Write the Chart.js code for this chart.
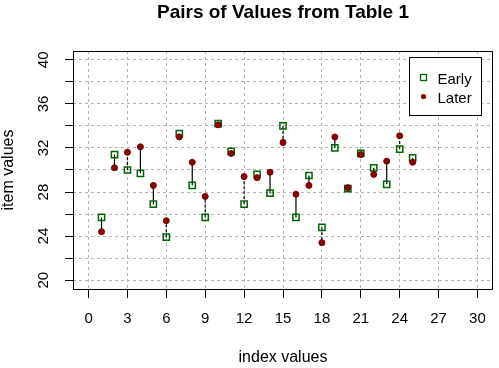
<!DOCTYPE html>
<html>
<head>
<meta charset="utf-8">
<script src="https://cdn.jsdelivr.net/npm/chart.js@4.4.1/dist/chart.umd.min.js"></script>
<style>
  html, body { margin: 0; padding: 0; background: #fff; }
  #wrap { width: 499px; height: 368px; }
</style>
</head>
<body>
<div id="wrap"><canvas id="chart" width="499" height="368"></canvas></div>
<script>
// Valores
const indexValues = [1, 2, 3, 4, 5, 6, 7, 8, 9, 10, 11, 12, 13, 14, 15, 16, 17, 18, 19, 20, 21, 22, 23, 24, 25];
const earlyValues = [25.7, 31.4, 30.0, 29.7, 26.9, 23.9, 33.3, 28.6, 25.7, 34.2, 31.7, 26.9, 29.6,
                     27.9, 34.0, 25.7, 29.5, 24.8, 32.0, 28.3, 31.5, 30.2, 28.7, 31.9, 31.1];
const laterValues = [24.4, 30.2, 31.6, 32.1, 28.6, 25.4, 33.0, 30.7, 27.6, 34.1, 31.5, 29.4, 29.3,
                     29.8, 32.5, 27.8, 28.6, 23.4, 33.0, 28.4, 31.4, 29.6, 30.8, 33.1, 30.7];
const xTickValues = [0, 3, 6, 9, 12, 15, 18, 21, 24, 27, 30];
const yTickValues = [20, 22, 24, 26, 28, 30, 32, 34, 36, 38, 40];
const yTickLabels = [20, 24, 28, 32, 36, 40];

const chartTitle = 'Pairs of Values from Table 1';
const FONT = "'Liberation Sans', Arial, Helvetica, sans-serif";

// Segmentos verticais ligando cada par (null quebra a linha)
function pairSegments(dashed) {
    const pts = [];
    indexValues.forEach((x, i) => {
        if ((x % 3 === 0) !== dashed) return;
        pts.push({ x: x, y: earlyValues[i] }, { x: x, y: laterValues[i] }, { x: x, y: null });
    });
    return pts;
}

// Título, moldura e legenda no estilo do R
const basePlot = {
    id: 'basePlot',
    afterDraw(chart) {
        const { ctx, chartArea: a } = chart;
        ctx.save();
        ctx.strokeStyle = '#000';
        ctx.lineWidth = 1;
        ctx.strokeRect(Math.round(a.left) + 0.5, Math.round(a.top) + 0.5,
                       Math.round(a.right - a.left) - 1, Math.round(a.bottom - a.top));

        ctx.fillStyle = '#000';
        ctx.font = 'bold 19px ' + FONT;
        ctx.textAlign = 'center';
        ctx.textBaseline = 'alphabetic';
        ctx.fillText(chartTitle, (a.left + a.right) / 2, 18);

        // legenda
        const lw = 72, lh = 58;
        const lx = Math.round(a.right - 12 - lw) + 0.5;
        const ly = Math.round(a.top + 6) + 0.5;
        ctx.fillStyle = '#fff';
        ctx.fillRect(lx, ly, lw, lh);
        ctx.strokeStyle = '#000';
        ctx.strokeRect(lx, ly, lw, lh);

        const early = chart.data.datasets[0];
        const later = chart.data.datasets[1];
        ctx.lineWidth = 1.3;
        ctx.strokeStyle = early.borderColor;
        ctx.strokeRect(lx + 11, ly + 17, 6, 6);
        ctx.beginPath();
        ctx.fillStyle = later.backgroundColor;
        ctx.arc(lx + 14, ly + 39, 2.6, 0, Math.PI * 2);
        ctx.fill();

        ctx.fillStyle = '#000';
        ctx.font = '15px ' + FONT;
        ctx.textAlign = 'left';
        ctx.fillText(early.label, lx + 28, ly + 26);
        ctx.fillText(later.label, lx + 28, ly + 45.5);
        ctx.restore();
    }
};

const ctx = document.getElementById('chart');
new Chart(ctx, {
    type: 'scatter',
    data: {
        datasets: [
            {
                label: 'Early',
                data: indexValues.map((x, i) => ({ x: x, y: earlyValues[i] })),
                pointStyle: 'rect',
                pointRadius: 4.4,
                borderWidth: 1.5,
                borderColor: '#006400',
                backgroundColor: 'rgba(0,0,0,0)',
                order: 2
            },
            {
                label: 'Later',
                data: indexValues.map((x, i) => ({ x: x, y: laterValues[i] })),
                pointStyle: 'circle',
                pointRadius: 3,
                borderWidth: 1,
                borderColor: '#6e0000',
                backgroundColor: '#8b0000',
                order: 1
            },
            {
                label: 'pairs',
                data: pairSegments(false),
                showLine: true,
                spanGaps: false,
                pointRadius: 0,
                borderColor: '#000',
                borderWidth: 1.2,
                order: 3
            },
            {
                label: 'pairs dashed',
                data: pairSegments(true),
                showLine: true,
                spanGaps: false,
                pointRadius: 0,
                borderColor: '#000',
                borderWidth: 1.2,
                borderDash: [3, 2],
                order: 3
            }
        ]
    },
    options: {
        responsive: false,
        animation: false,
        layout: {
            padding: { left: 0, right: 6, top: 51, bottom: 0 }
        },
        plugins: {
            legend: { display: false },
            tooltip: { enabled: false }
        },
        scales: {
            x: {
                type: 'linear',
                min: -1.2,
                max: 31.2,
                afterBuildTicks: s => { s.ticks = xTickValues.map(v => ({ value: v })); },
                afterFit: s => { s.height = 79; },
                grid: { color: '#b4b4b4', lineWidth: 1, tickLength: 9, tickColor: '#000' },
                border: { display: false, dash: [3, 3] },
                ticks: {
                    color: '#000',
                    font: { family: FONT, size: 15 },
                    padding: 11.5,
                    maxRotation: 0,
                    autoSkip: false
                },
                title: {
                    display: true,
                    text: 'index values',
                    color: '#000',
                    font: { family: FONT, size: 16, lineHeight: 1 },
                    padding: { top: 0, bottom: 2.3 }
                }
            },
            y: {
                type: 'linear',
                min: 19.2,
                max: 40.8,
                afterBuildTicks: s => { s.ticks = yTickValues.map(v => ({ value: v })); },
                afterFit: s => { s.width = 73; },
                grid: { color: '#b4b4b4', lineWidth: 1, tickLength: 8, tickColor: '#000' },
                border: { display: false, dash: [3, 3] },
                ticks: {
                    color: '#000',
                    font: { family: FONT, size: 15 },
                    padding: 12.6,
                    minRotation: 90,
                    maxRotation: 90,
                    crossAlign: 'center',
                    autoSkip: false,
                    callback: v => (yTickLabels.includes(v) ? String(v) : '')
                },
                title: {
                    display: true,
                    text: 'item values',
                    color: '#000',
                    font: { family: FONT, size: 16, lineHeight: 1 },
                    padding: { top: 0.4, bottom: 0 }
                }
            }
        }
    },
    plugins: [basePlot]
});
</script>
</body>
</html>
